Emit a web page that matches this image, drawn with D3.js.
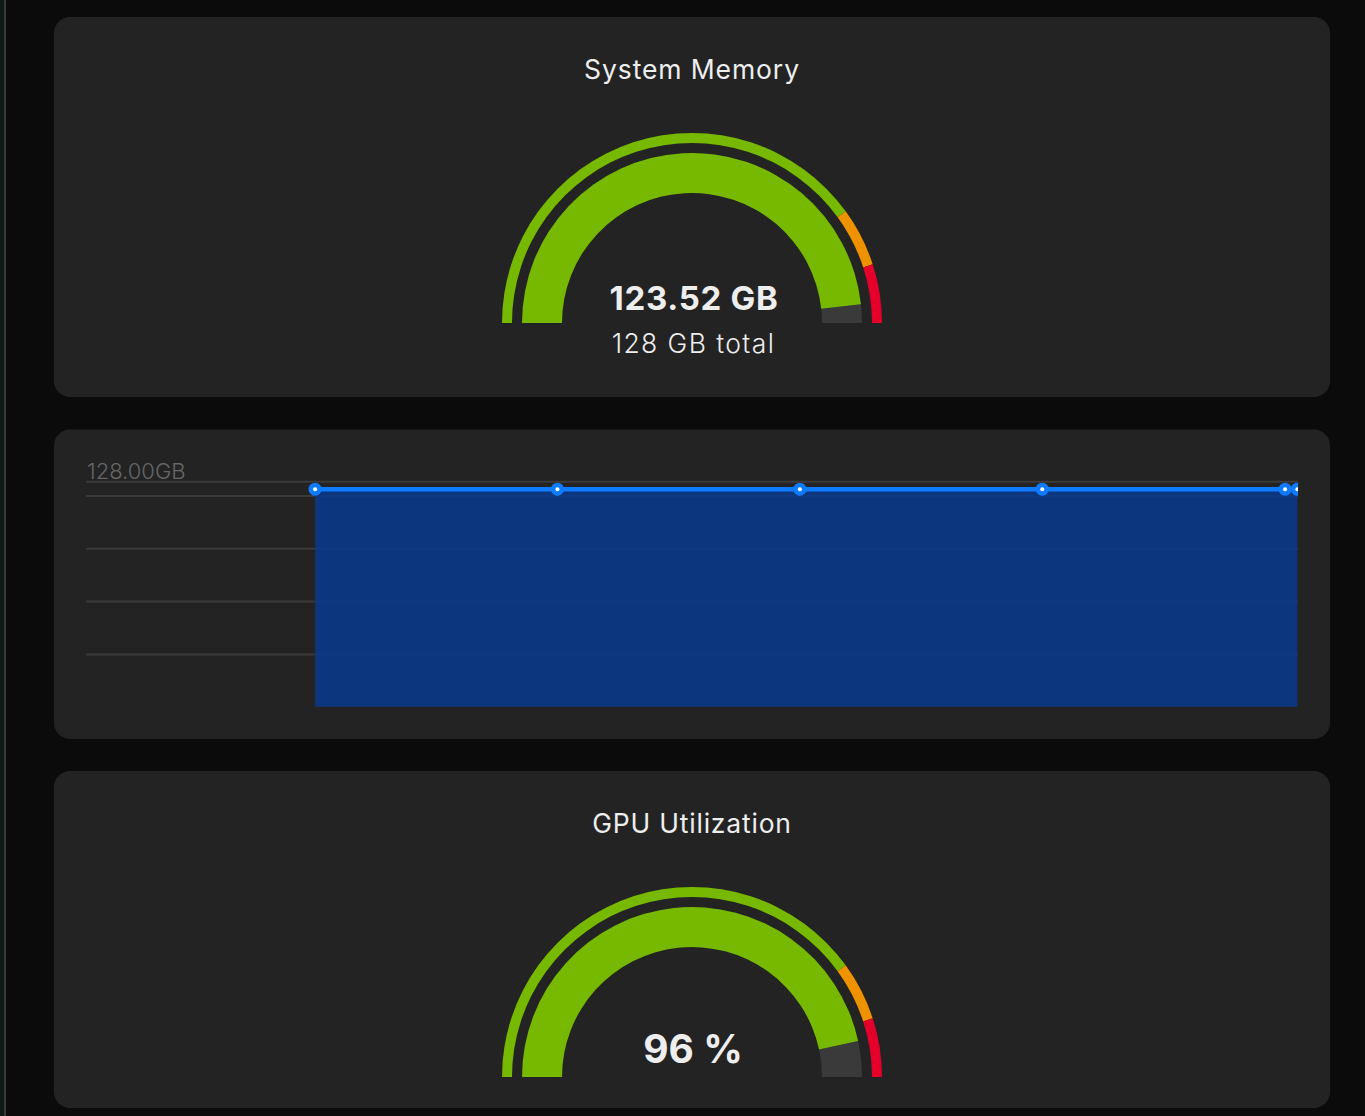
<!DOCTYPE html>
<html lang="en">
<head>
<meta charset="utf-8">
<title>System Memory / GPU Utilization</title>
<script src="https://cdn.jsdelivr.net/npm/d3@7"></script>
<style>
html, body { margin: 0; padding: 0; background: #0b0b0b; overflow: hidden; }
svg { display: block; }
text { font-family: Inter, "Noto Sans", sans-serif; }
</style>
</head>
<body>
<svg id="chart" width="1365" height="1116"></svg>
<script>
// values
var memoryUsed = 123.52;
var memoryTotal = 128;
var gpuGaugeValue = 93.2;   // the needle sits a bit behind the printed label
var gpuLabel = "96 %";
var thresholdStops = [0, 80, 90, 100];
var thresholdColors = ["#76b900", "#ee9200", "#e4002b"];

var sampleTimes = [56.7, 116.7, 176.7, 236.7, 296.8, 299.85];
var sampleValues = [123.52, 123.52, 123.52, 123.52, 123.52, 123.52];
var yTicks = [30, 60, 90, 120, 128];

var svg = d3.select("#chart");

// page and cards
svg.append("rect").attr("x", 0).attr("y", 0).attr("width", 4).attr("height", 1116).attr("fill", "#0f1a14");
svg.append("rect").attr("x", 4).attr("y", 0).attr("width", 2).attr("height", 1116).attr("fill", "#3a3a3a");

var cards = [[17, 380], [429.5, 309.5], [771, 337]];
svg.selectAll("rect.card")
    .data(cards)
    .enter()
    .append("rect")
    .attr("class", "card")
    .attr("x", 54)
    .attr("y", function(d) { return d[0]; })
    .attr("width", 1276)
    .attr("height", function(d) { return d[1]; })
    .attr("rx", 16)
    .attr("fill", "#232323");

var pct = d3.scaleLinear().domain([0, 100]).range([-Math.PI / 2, Math.PI / 2]);

function drawGauge(cx, cy, percent) {
    var g = svg.append("g").attr("transform", "translate(" + cx + "," + cy + ")");
    var ring = d3.arc().innerRadius(180).outerRadius(190);
    var main = d3.arc().innerRadius(130).outerRadius(170);

    thresholdColors.forEach(function(c, i) {
        g.append("path")
            .attr("d", ring({ startAngle: pct(thresholdStops[i]), endAngle: pct(thresholdStops[i + 1]) }))
            .attr("fill", c);
    });
    g.append("path")
        .attr("d", main({ startAngle: pct(percent), endAngle: pct(100) }))
        .attr("fill", "#3a3a3a");
    g.append("path")
        .attr("d", main({ startAngle: pct(0), endAngle: pct(percent) }))
        .attr("fill", "#76b900");
}

function label(x, y, txt, size, weight, spacing) {
    svg.append("text")
        .attr("x", x).attr("y", y)
        .attr("text-anchor", "middle")
        .attr("font-size", size)
        .attr("font-weight", weight)
        .attr("letter-spacing", spacing)
        .attr("fill", "#eeeeee")
        .text(txt);
}

// memory gauge
label(692, 79, "System Memory", 26.5, 400, 0.9);
drawGauge(692, 323, memoryUsed / memoryTotal * 100);
label(694, 310, memoryUsed.toFixed(2) + " GB", 33, 700, 0.7);
label(693.5, 353, memoryTotal + " GB total", 26.5, 300, 1.4);

// gpu gauge
label(692, 833, "GPU Utilization", 26.5, 400, 0.8);
drawGauge(692, 1077, gpuGaugeValue);
label(693, 1063, gpuLabel, 39, 700, 0);

// memory history chart
var x = d3.scaleLinear().domain([0, 300]).range([86, 1298]);
var y = d3.scaleLinear().domain([0, memoryTotal]).range([706.8, 481.3]);

var points = sampleTimes.map(function(t, i) { return { t: t, v: sampleValues[i] }; });

svg.append("clipPath").attr("id", "plot")
    .append("rect").attr("x", 86).attr("y", 470).attr("width", 1212).attr("height", 240);

var axis = d3.axisLeft(y)
    .tickValues(yTicks)
    .tickSize(-1212)
    .tickFormat(function(d) { return d === memoryTotal ? d.toFixed(2) + "GB" : ""; });

var axisG = svg.append("g").attr("transform", "translate(86,0)").call(axis);
axisG.select(".domain").remove();
axisG.selectAll("line").attr("stroke", "#3a3a3a").attr("stroke-width", 2);
axisG.selectAll("text")
    .attr("x", 1)
    .attr("y", -10)
    .attr("text-anchor", "start")
    .attr("font-size", 22)
    .attr("font-weight", 300)
    .attr("fill", "#666666")
    .attr("font-family", "Inter, sans-serif");

var area = d3.area()
    .x(function(d) { return x(d.t); })
    .y0(y(0))
    .y1(function(d) { return y(d.v); });
var line = d3.line()
    .x(function(d) { return x(d.t); })
    .y(function(d) { return y(d.v); });

var plot = svg.append("g").attr("clip-path", "url(#plot)");
plot.append("path").datum(points).attr("d", area).attr("fill", "#093a8c").attr("fill-opacity", 0.88);
plot.append("path").datum(points).attr("d", line).attr("fill", "none").attr("stroke", "#0f7cff").attr("stroke-width", 4.5);
plot.selectAll("circle.halo")
    .data(points)
    .enter()
    .append("circle")
    .attr("class", "halo")
    .attr("cx", function(d) { return x(d.t); })
    .attr("cy", function(d) { return y(d.v); })
    .attr("r", 6.5)
    .attr("fill", "#0f7cff");
plot.selectAll("circle.dot")
    .data(points)
    .enter()
    .append("circle")
    .attr("class", "dot")
    .attr("cx", function(d) { return x(d.t); })
    .attr("cy", function(d) { return y(d.v); })
    .attr("r", 2)
    .attr("fill", "#ffffff");
</script>
</body>
</html>
